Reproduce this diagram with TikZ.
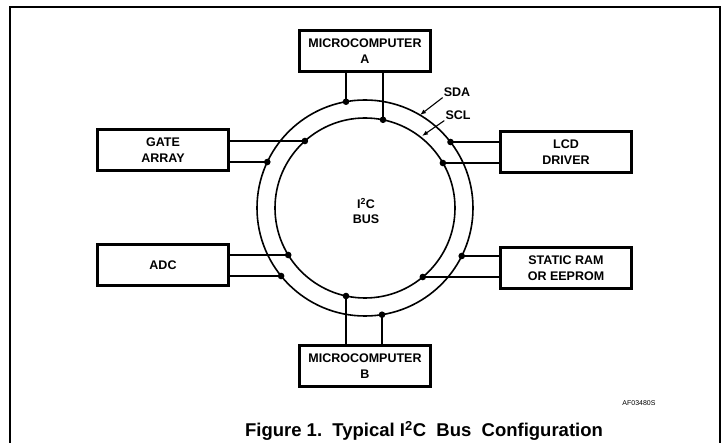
\documentclass[tikz,border=0pt]{standalone}
\usepackage{fontspec}
\setmainfont{Liberation Sans}
\usetikzlibrary{arrows.meta}

\begin{document}
\begin{tikzpicture}[x=1pt, y=-1pt,
    unit/.style={draw, line width=2.6pt, minimum width=130.5pt, minimum height=41.5pt,
        align=center, font=\bfseries\fontsize{12.5}{15.5}\selectfont},
    wire/.style={line width=1.6pt},
    lbl/.style={font=\bfseries\fontsize{12.5}{15}\selectfont, inner sep=1pt},
    arr/.style={line width=1.1pt, -{Latex[length=6pt,width=4.5pt]}}]
    \useasboundingbox (0,0) rectangle (723,443);

    % Frame
    \draw[line width=2.2pt] (10,443) -- (10,7) -- (720,7) -- (720,443);

    % Bus lines
    \coordinate (bus) at (365,208);
    \draw[wire] (bus) circle[radius=108pt];
    \draw[wire] (bus) circle[radius=90pt];
    \node[lbl, align=center] (buslbl) at (366,211) {I\textsuperscript{2}C\\BUS};

    % Devices
    \node[unit] (mcA) at (365,51) {MICROCOMPUTER\\A};
    \node[unit] (mcB) at (365,366) {MICROCOMPUTER\\B};
    \node[unit] (gate) at (163,150) {GATE\\ARRAY};
    \node[unit] (adc) at (163,265) {ADC};
    \node[unit] (lcd) at (566,152) {LCD\\DRIVER};
    \node[unit] (sram) at (566,268) {STATIC RAM\\OR EEPROM};

    % Taps on SDA (outer) and SCL (inner)
    \coordinate (mcAsda) at (346,101.7);
    \coordinate (mcAscl) at (383,119.8);
    \coordinate (mcBscl) at (346,296.0);
    \coordinate (mcBsda) at (382,314.7);
    \coordinate (gatescl) at (304.9,141);
    \coordinate (gatesda) at (267.3,162);
    \coordinate (adcscl) at (288.2,255);
    \coordinate (adcsda) at (281.1,276);
    \coordinate (lcdsda) at (450.5,142);
    \coordinate (lcdscl) at (442.9,163);
    \coordinate (sramsda) at (461.7,256);
    \coordinate (sramscl) at (422.8,277);

    % Connections
    \draw[wire] (mcAsda) -- (mcAsda |- mcA.south);
    \draw[wire] (mcAscl) -- (mcAscl |- mcA.south);
    \draw[wire] (mcBscl) -- (mcBscl |- mcB.north);
    \draw[wire] (mcBsda) -- (mcBsda |- mcB.north);
    \draw[wire] (gatescl) -- (gatescl -| gate.east);
    \draw[wire] (gatesda) -- (gatesda -| gate.east);
    \draw[wire] (adcscl) -- (adcscl -| adc.east);
    \draw[wire] (adcsda) -- (adcsda -| adc.east);
    \draw[wire] (lcdsda) -- (lcdsda -| lcd.west);
    \draw[wire] (lcdscl) -- (lcdscl -| lcd.west);
    \draw[wire] (sramsda) -- (sramsda -| sram.west);
    \draw[wire] (sramscl) -- (sramscl -| sram.west);
    \foreach \p in {mcAsda,mcAscl,mcBscl,mcBsda,gatescl,gatesda,adcscl,adcsda,lcdsda,lcdscl,sramsda,sramscl}
        \fill (\p) circle (3.3pt);

    % SDA and SCL labels
    \node[lbl] (sda) at (457,92) {SDA};
    \node[lbl] (scl) at (458,115) {SCL};
    \coordinate (sdatip) at (420,115);
    \coordinate (scltip) at (422,136);
    \draw[arr] (sda.south west) -- (sdatip);
    \draw[arr] (scl.south west) -- (scltip);

    % Caption
    \node[font=\fontsize{7}{9}\selectfont] (code) at (639,403) {AF03480S};
    \node[font=\bfseries\fontsize{18.5}{20}\selectfont] (caption) at (424,431) {Figure 1.\ \ Typical I\textsuperscript{2}C\ \ Bus\ \ Configuration};
\end{tikzpicture}
\end{document}
